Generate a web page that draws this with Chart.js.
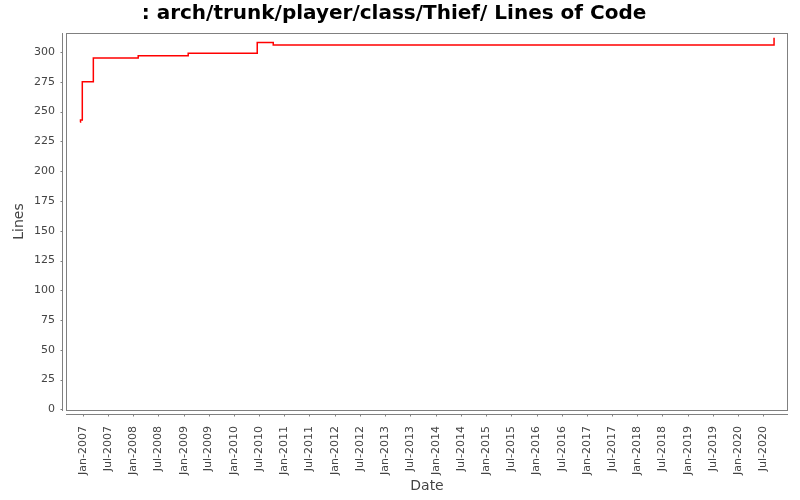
<!DOCTYPE html>
<html>
<head>
<meta charset="utf-8">
<script src="https://cdn.jsdelivr.net/npm/chart.js@4"></script>
<style>
  html, body { margin: 0; padding: 0; background: #fff; }
  #chart { display: block; }
</style>
</head>
<body>
<canvas id="chart" width="800" height="500"></canvas>
<script>
// data
const commitDates = ['2006-12-15', '2006-12-16', '2006-12-29', '2007-03-19', '2008-02-07',
                     '2009-02-03', '2010-06-18', '2010-10-12', '2020-09-16'];
const linesOfCode = [241, 243, 275, 295, 297, 299, 308, 306, 312];

const yTicks = [0, 25, 50, 75, 100, 125, 150, 175, 200, 225, 250, 275, 300];
const xTickLabels = ['Jan-2007', 'Jul-2007', 'Jan-2008', 'Jul-2008', 'Jan-2009', 'Jul-2009',
                     'Jan-2010', 'Jul-2010', 'Jan-2011', 'Jul-2011', 'Jan-2012', 'Jul-2012',
                     'Jan-2013', 'Jul-2013', 'Jan-2014', 'Jul-2014', 'Jan-2015', 'Jul-2015',
                     'Jan-2016', 'Jul-2016', 'Jan-2017', 'Jul-2017', 'Jan-2018', 'Jul-2018',
                     'Jan-2019', 'Jul-2019', 'Jan-2020', 'Jul-2020'];

const MONTHS = {Jan: 0, Jul: 6};
function day(s) {
    const p = s.split('-');
    return Date.UTC(+p[0], +p[1] - 1, +p[2]);
}
function tickTime(lbl) {
    const p = lbl.split('-');
    return Date.UTC(+p[1], MONTHS[p[0]], 1);
}
const xTickVals = xTickLabels.map(tickTime);
const points = commitDates.map((d, i) => ({x: day(d), y: linesOfCode[i]}));

const AXIS = '#808080';

/* plot box + offset axes like the original */
const frame = {
    id: 'frame',
    afterDraw(chart) {
        const {ctx, chartArea: a, scales} = chart;
        ctx.save();
        ctx.strokeStyle = AXIS;
        ctx.lineWidth = 1;
        ctx.strokeRect(a.left + 0.5, a.top + 0.5, a.right - a.left - 1, a.bottom - a.top);
        ctx.beginPath();
        // x axis
        const yAx = a.bottom + 4.5;
        ctx.moveTo(a.left, yAx); ctx.lineTo(a.right, yAx);
        scales.x.ticks.forEach(t => {
            const px = Math.round(scales.x.getPixelForValue(t.value)) + 0.5;
            ctx.moveTo(px, yAx); ctx.lineTo(px, yAx + 2);
        });
        // y axis
        const xAx = a.left - 3.5;
        ctx.moveTo(xAx, a.top); ctx.lineTo(xAx, a.bottom + 1);
        scales.y.ticks.forEach(t => {
            const py = Math.round(scales.y.getPixelForValue(t.value)) + 0.5;
            ctx.moveTo(xAx, py); ctx.lineTo(xAx - 2, py);
        });
        ctx.stroke();
        ctx.restore();
    }
};

new Chart(document.getElementById('chart'), {
    type: 'line',
    data: {
        datasets: [{
            data: points,
            stepped: true,
            borderColor: '#ff0000',
            borderWidth: 1.5,
            pointRadius: 0,
            fill: false
        }]
    },
    options: {
        responsive: false,
        animation: false,
        devicePixelRatio: 1,
        layout: {padding: {left: 0, right: 12, top: 0, bottom: 0}},
        plugins: {
            legend: {display: false},
            tooltip: {enabled: false},
            title: {
                display: true,
                text: ': arch/trunk/player/class/Thief/ Lines of Code',
                color: '#000',
                font: {family: 'DejaVu Sans', size: 20, weight: 'bold'},
                padding: {top: 2, bottom: 7}
            }
        },
        scales: {
            x: {
                type: 'linear',
                min: Date.UTC(2006, 8, 2),
                max: Date.UTC(2020, 11, 26),
                grid: {display: false, drawTicks: false},
                border: {display: false},
                afterBuildTicks: s => { s.ticks = xTickVals.map(v => ({value: v})); },
                afterFit: s => { s.height = 90; },
                ticks: {
                    autoSkip: false,
                    minRotation: 90,
                    maxRotation: 90,
                    padding: 16,
                    color: '#444',
                    font: {family: 'DejaVu Sans', size: 11},
                    callback: (v, i) => xTickLabels[i]
                },
                title: {
                    display: true,
                    text: 'Date',
                    color: '#444',
                    font: {family: 'DejaVu Sans', size: 14},
                    padding: {top: 0, bottom: 5}
                }
            },
            y: {
                min: -0.5,
                max: 316,
                grid: {display: false, drawTicks: false},
                border: {display: false},
                afterBuildTicks: s => { s.ticks = yTicks.map(v => ({value: v})); },
                afterFit: s => { s.width = 66; },
                ticks: {
                    padding: 11,
                    color: '#444',
                    font: {family: 'DejaVu Sans', size: 11},
                    callback: v => v
                },
                title: {
                    display: true,
                    text: 'Lines',
                    color: '#444',
                    font: {family: 'DejaVu Sans', size: 14},
                    padding: {top: 11, bottom: 0}
                }
            }
        }
    },
    plugins: [frame]
});
</script>
</body>
</html>
